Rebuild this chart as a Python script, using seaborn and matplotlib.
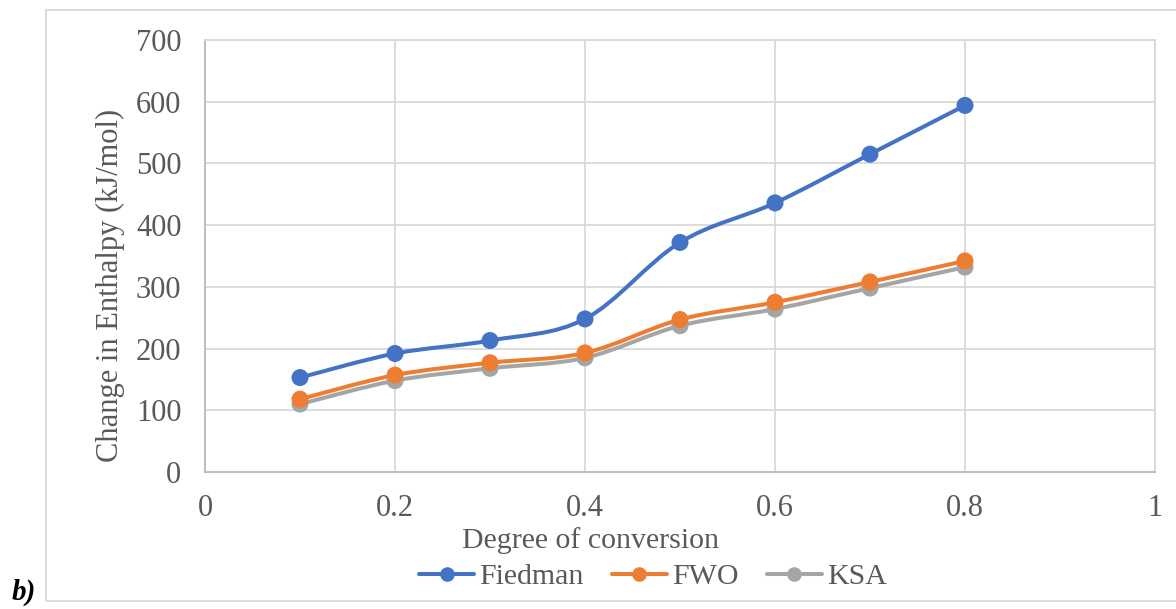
import numpy as np
import pandas as pd
import matplotlib
matplotlib.use("Agg")
import matplotlib.pyplot as plt
import seaborn as sns
from matplotlib.path import Path
from matplotlib.patches import PathPatch, Rectangle
from matplotlib.lines import Line2D

# Degree of conversion and enthalpy change (kJ/mol) per method
conversion = [0.1, 0.2, 0.3, 0.4, 0.5, 0.6, 0.7, 0.8]
fiedman = [153, 192, 213, 248, 372, 436, 515, 594]
fwo = [118, 157, 177, 193, 247, 275, 308, 342]
ksa = [110, 148, 168, 185, 237, 264, 298, 332]

series_names = ["Fiedman", "FWO", "KSA"]
series_values = [fiedman, fwo, ksa]
colors = ["#4472C4", "#ED7D31", "#A5A5A5"]

x_ticks = [0, 0.2, 0.4, 0.6, 0.8, 1]
x_tick_labels = ["0", "0.2", "0.4", "0.6", "0.8", "1"]
y_ticks = [0, 100, 200, 300, 400, 500, 600, 700]

df = pd.DataFrame({
    "conversion": conversion * 3,
    "enthalpy": fiedman + fwo + ksa,
    "method": sum([[n] * len(conversion) for n in series_names], []),
})

sns.set_theme(style="white")
plt.rcParams["font.family"] = ["Liberation Serif", "DejaVu Serif"]

W, H = 1176, 609
fig = plt.figure(figsize=(W / 100, H / 100), dpi=100)
ax = fig.add_axes([205 / W, 1 - 472 / H, 950 / W, 432 / H])

# outer chart frame
fig.patches.append(Rectangle((46 / W, 1 - 601 / H), 1.2, 591 / H,
                             transform=fig.transFigure, fill=False,
                             edgecolor="#d9d9d9", linewidth=1.3, zorder=0))


def smooth_path(xs, ys):
    """Bezier path through the points, in the style of a smoothed line chart."""
    pts = np.column_stack([xs, ys]).astype(float)
    n = len(pts)
    verts = [pts[0]]
    codes = [Path.MOVETO]
    for i in range(n - 1):
        p_prev = pts[i - 1] if i > 0 else pts[i]
        p_next2 = pts[i + 2] if i + 2 < n else pts[i + 1]
        c1 = pts[i] + (pts[i + 1] - p_prev) / 6.0
        c2 = pts[i + 1] - (p_next2 - pts[i]) / 6.0
        verts += [c1, c2, pts[i + 1]]
        codes += [Path.CURVE4] * 3
    return Path(verts, codes)


# smoothed connecting lines (drawn bottom-up so blue is on top)
for name, vals, col in reversed(list(zip(series_names, series_values, colors))):
    ax.add_patch(PathPatch(smooth_path(conversion, vals), facecolor="none",
                           edgecolor=col, linewidth=2.9, capstyle="round",
                           zorder=3))

sns.scatterplot(data=df.iloc[::-1], x="conversion", y="enthalpy", hue="method",
                hue_order=series_names, palette=colors, s=150, linewidth=0,
                legend=False, ax=ax, zorder=4)

ax.set_xlim(0, 1)
ax.set_ylim(0, 700)
ax.set_xticks(x_ticks)
ax.set_xticklabels(x_tick_labels)
ax.set_yticks(y_ticks)
ax.grid(True, color="#d9d9d9", linewidth=1.3)
ax.set_axisbelow(True)
for side in ["top", "right"]:
    ax.spines[side].set_color("#d9d9d9")
    ax.spines[side].set_linewidth(1.3)
for side in ["left", "bottom"]:
    ax.spines[side].set_color("#bfbfbf")
    ax.spines[side].set_linewidth(1.5)
ax.tick_params(axis="both", length=0, labelsize=22, labelcolor="#595959")
ax.tick_params(axis="y", pad=17)
ax.tick_params(axis="x", pad=16)
ax.set_xlabel("")
ax.set_ylabel("")

fig.text(591 / W, 1 - 541 / H, "Degree of conversion", fontsize=21.5,
         color="#595959", ha="center", va="center")
fig.text(110 / W, 1 - 285 / H, "Change in Enthalpy (kJ/mol)", fontsize=22,
         color="#595959", ha="center", va="center", rotation=90)

handles = [Line2D([0], [0], color=c, linewidth=2.9, marker="o", markersize=10.5,
                  markeredgewidth=0) for c in colors]
fig.legend(handles, series_names, loc="center",
           bbox_to_anchor=(653 / W, 1 - 577 / H),
           ncol=3, frameon=False, fontsize=21.5, labelcolor="#595959",
           handlelength=1.85, handletextpad=0.17, columnspacing=0.94,
           borderpad=0, borderaxespad=0)

fig.text(12 / W, 1 - 600 / H, "b)", fontsize=21, fontweight="bold",
         fontstyle="italic", va="baseline", ha="left", color="black")

fig.savefig("out.png", dpi=100)
